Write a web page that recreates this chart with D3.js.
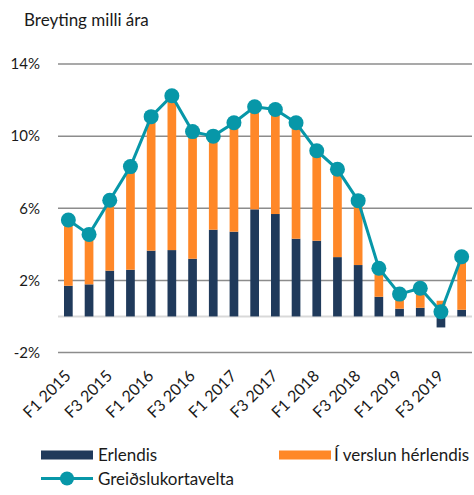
<!DOCTYPE html>
<html>
<head>
<meta charset="utf-8">
<script src="https://cdn.jsdelivr.net/npm/d3@7"></script>
<style>
  body { margin: 0; background: #fff; }
  text { font-family: Lato, "Open Sans", sans-serif; fill: #1a1a1a; }
</style>
</head>
<body>
<script>
var quarters = ["F1 2015","F2 2015","F3 2015","F4 2015",
                "F1 2016","F2 2016","F3 2016","F4 2016",
                "F1 2017","F2 2017","F3 2017","F4 2017",
                "F1 2018","F2 2018","F3 2018","F4 2018",
                "F1 2019","F2 2019","F3 2019","F4 2019"];

var erlendis = [1.70,1.78,2.54,2.59,3.65,3.68,3.20,4.81,4.70,5.94,
                5.68,4.31,4.20,3.29,2.85,1.09,0.43,0.48,-0.61,0.37];

var verslun = [3.65,2.77,3.90,5.72,7.43,8.56,7.05,5.19,6.04,5.69,
               5.80,6.43,4.99,4.87,3.57,1.58,0.81,1.08,0.87,2.94];

var kortavelta = [5.35,4.55,6.44,8.31,11.08,12.24,10.25,10.00,10.74,11.63,
                  11.48,10.74,9.19,8.16,6.42,2.67,1.24,1.56,0.26,3.31];

var yTicks = [-2, 2, 6, 10, 14];
var xLabels = ["F1 2015","F3 2015","F1 2016","F3 2016","F1 2017",
               "F3 2017","F1 2018","F3 2018","F1 2019","F3 2019"];

var colErl = "#203a5b", colVer = "#ff8828", colLine = "#0797a8";

var width = 474, height = 495;

var svg = d3.select("body").append("svg")
    .attr("width", width)
    .attr("height", height);

var x = d3.scaleBand()
    .domain(quarters)
    .range([58, 472])
    .paddingInner(0.58)
    .paddingOuter(0.29);

var y = d3.scaleLinear()
    .domain([-2, 14])
    .range([352.5, 64]);

svg.append("text")
    .attr("x", 24)
    .attr("y", 26)
    .style("font-size", "17px")
    .text("Breyting milli ára");

// gridlines
svg.append("g").selectAll("line")
    .data(yTicks)
    .enter().append("line")
    .attr("x1", 58).attr("x2", 472)
    .attr("y1", function(d) { return y(d); })
    .attr("y2", function(d) { return y(d); })
    .attr("stroke", "#8c8c8c")
    .attr("stroke-width", 1.5);

svg.append("g").selectAll("text")
    .data(yTicks)
    .enter().append("text")
    .attr("x", 40)
    .attr("y", function(d) { return y(d); })
    .attr("dy", "0.35em")
    .attr("text-anchor", "end")
    .style("font-size", "15px")
    .text(function(d) { return d + "%"; });

// zero line
svg.append("line")
    .attr("x1", 58).attr("x2", 472)
    .attr("y1", y(0)).attr("y2", y(0))
    .attr("stroke", "#d9d9d9")
    .attr("stroke-width", 2);

// stacked bars
var bars = svg.append("g");
quarters.forEach(function(q, i) {
    var e = erlendis[i], v = verslun[i];
    bars.append("rect")
        .attr("x", x(q))
        .attr("width", x.bandwidth())
        .attr("y", e >= 0 ? y(e) : y(0))
        .attr("height", Math.abs(y(0) - y(e)))
        .attr("fill", colErl);
    var base = e >= 0 ? e : 0;
    bars.append("rect")
        .attr("x", x(q))
        .attr("width", x.bandwidth())
        .attr("y", y(base + v))
        .attr("height", y(base) - y(base + v))
        .attr("fill", colVer);
});

// line
var line = d3.line()
    .x(function(d, i) { return x(quarters[i]) + x.bandwidth() / 2; })
    .y(function(d) { return y(d); });

svg.append("path")
    .datum(kortavelta)
    .attr("d", line)
    .attr("fill", "none")
    .attr("stroke", colLine)
    .attr("stroke-width", 3);

svg.append("g").selectAll("circle")
    .data(kortavelta)
    .enter().append("circle")
    .attr("cx", function(d, i) { return x(quarters[i]) + x.bandwidth() / 2; })
    .attr("cy", function(d) { return y(d); })
    .attr("r", 7.5)
    .attr("fill", colLine);

// x labels
svg.append("g").selectAll("text")
    .data(xLabels)
    .enter().append("text")
    .attr("text-anchor", "end")
    .style("font-size", "16px")
    .attr("transform", function(d) {
        var cx = x(d) + x.bandwidth() / 2 + 3.5;
        return "translate(" + cx + ",377) rotate(-45)";
    })
    .text(function(d) { return d; });

// legend
var legend = svg.append("g");
legend.append("rect").attr("x", 41).attr("y", 450.5).attr("width", 52).attr("height", 9).attr("fill", colErl);
legend.append("text").attr("x", 98).attr("y", 461).style("font-size", "17px").text("Erlendis");
legend.append("rect").attr("x", 279).attr("y", 450.5).attr("width", 52).attr("height", 9).attr("fill", colVer);
legend.append("text").attr("x", 334).attr("y", 461).style("font-size", "17px").text("Í verslun hérlendis");
legend.append("line").attr("x1", 41).attr("x2", 93).attr("y1", 478.5).attr("y2", 478.5)
    .attr("stroke", colLine).attr("stroke-width", 3);
legend.append("circle").attr("cx", 67).attr("cy", 478.5).attr("r", 7).attr("fill", colLine);
legend.append("text").attr("x", 98).attr("y", 485).style("font-size", "17px").text("Greiðslukortavelta");
</script>
</body>
</html>
